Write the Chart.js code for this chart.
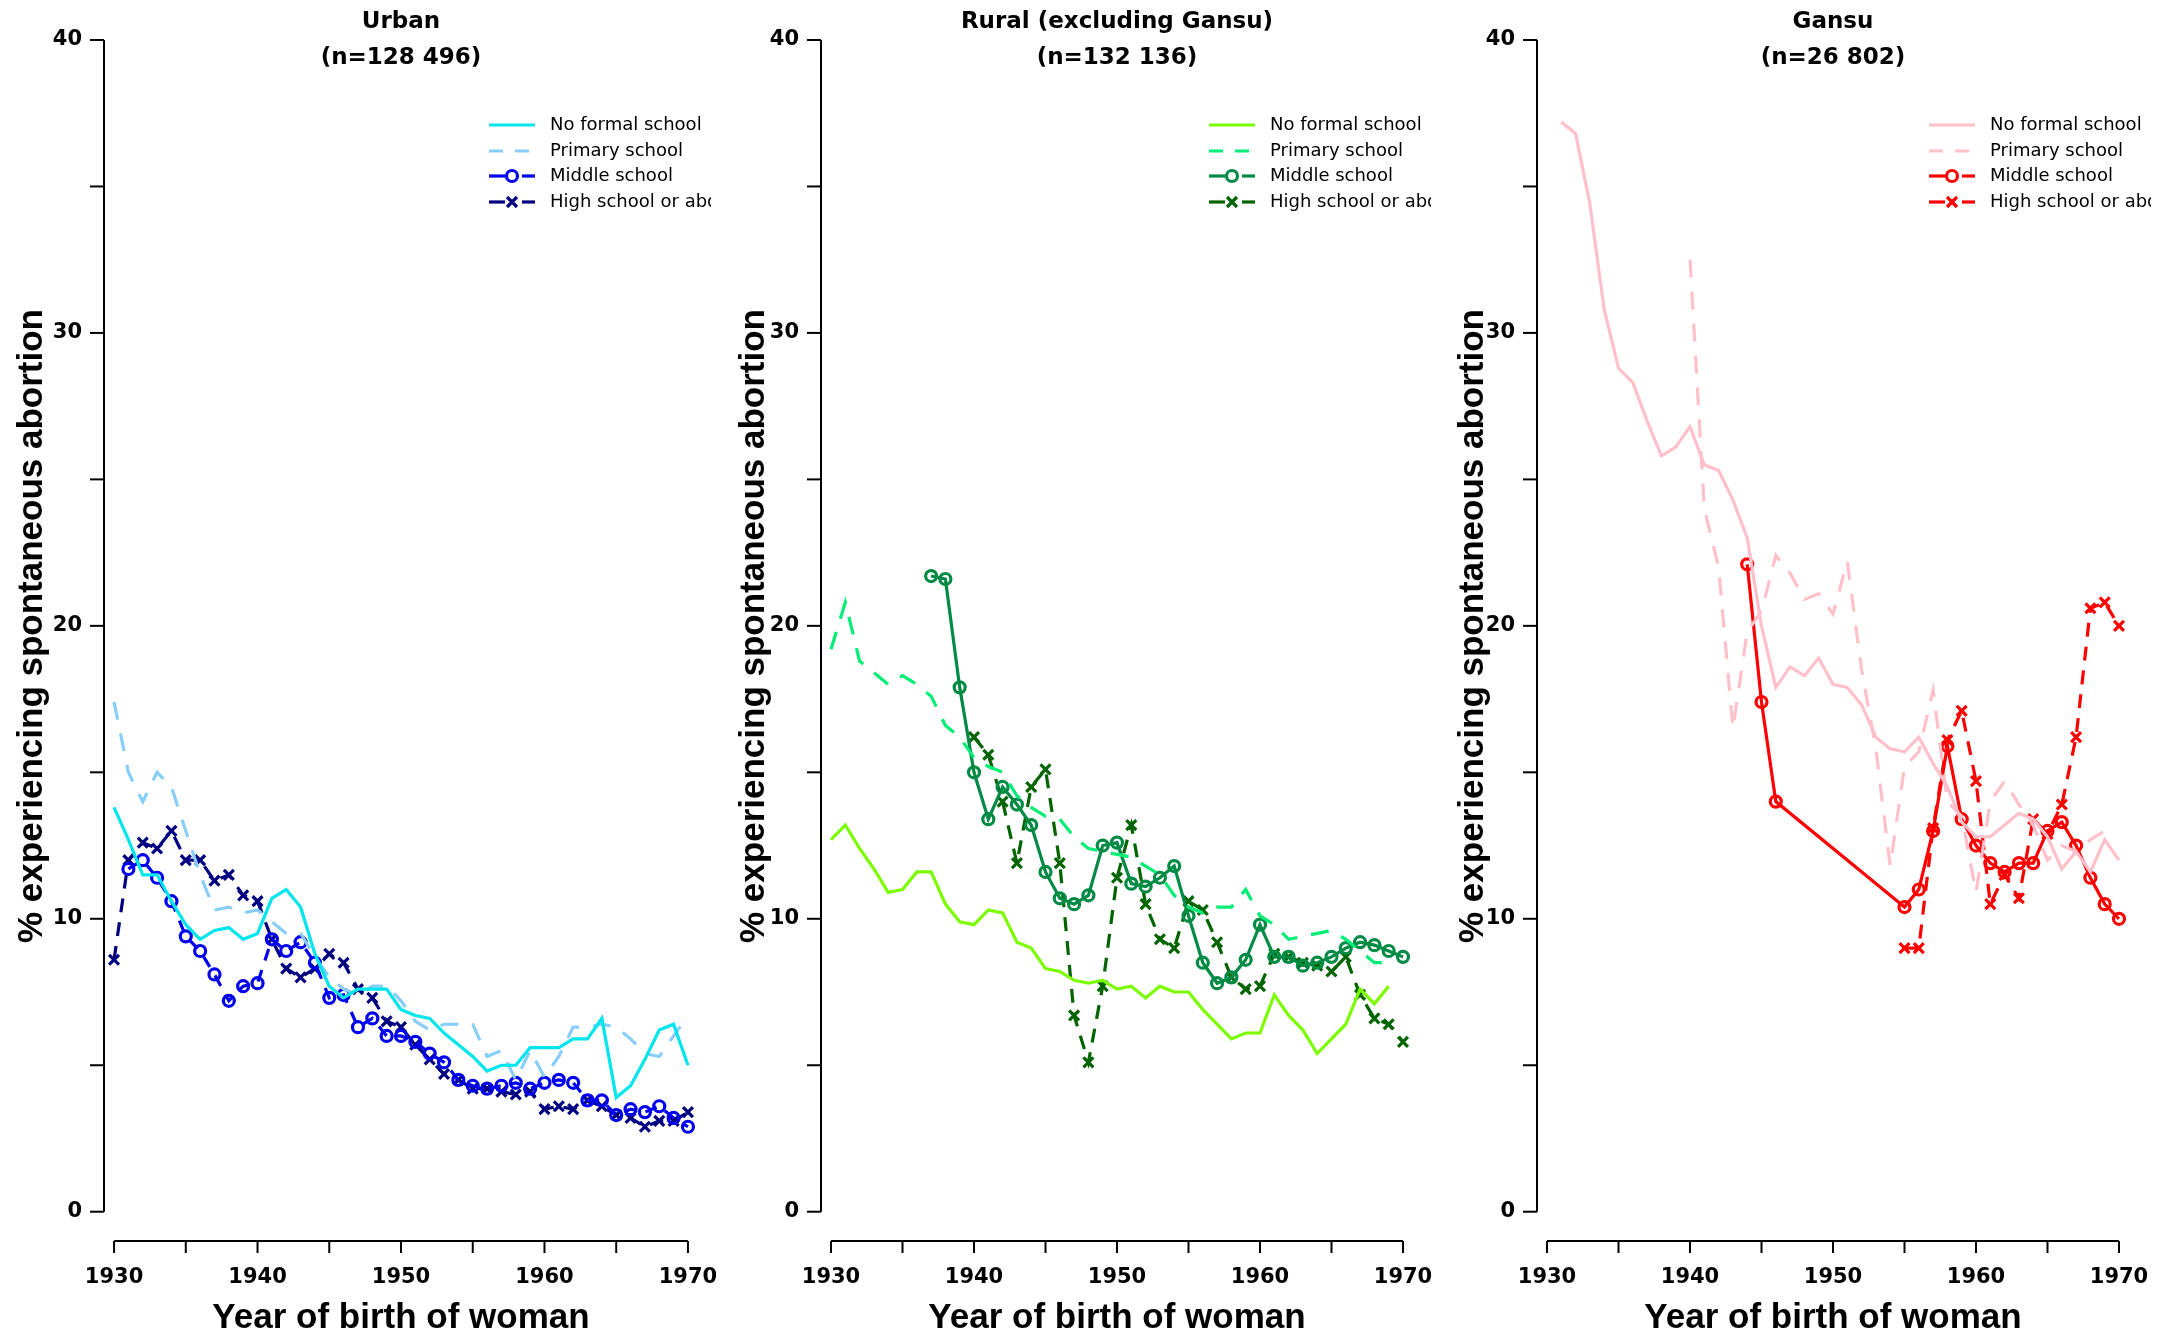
<!DOCTYPE html>
<html><head><meta charset="utf-8">
<script src="https://cdn.jsdelivr.net/npm/chart.js@4"></script>
<style>
html,body{margin:0;padding:0;background:#fff;}
#wrap{position:relative;width:2160px;height:1333px;}
.pc{position:absolute;top:0;width:720px;height:1333px;}
</style></head><body>
<div id="wrap">
<div class="pc" style="left:0"><canvas id="c1"></canvas></div>
<div class="pc" style="left:720px"><canvas id="c2"></canvas></div>
<div class="pc" style="left:1440px"><canvas id="c3"></canvas></div>
</div>
<script>
const years = []; for (let y = 1930; y <= 1970; y++) years.push(y);
const legendLabels = ["No formal school", "Primary school", "Middle school", "High school or above"];
const yTicks = [0, 5, 10, 15, 20, 25, 30, 35, 40];
const xTicks = [1930, 1935, 1940, 1945, 1950, 1955, 1960, 1965, 1970];
const N = null;

const urbanNone = [13.8,12.7,11.5,11.5,10.6,9.8,9.3,9.6,9.7,9.3,9.5,10.7,11.0,10.4,8.8,7.7,7.3,7.6,7.6,7.6,6.9,6.7,6.6,6.1,5.7,5.3,4.8,5.0,5.0,5.6,5.6,5.6,5.9,5.9,6.6,3.9,4.3,5.2,6.2,6.4,5.0];
const urbanPrimary = [17.4,15.0,14.0,15.0,14.5,13.0,11.5,10.3,10.4,10.2,10.3,9.9,9.5,9.5,8.7,8.0,7.6,7.4,7.7,7.7,7.2,6.5,6.2,6.4,6.4,6.4,5.3,5.5,4.5,5.5,4.6,5.3,6.3,6.3,6.4,6.3,5.9,5.4,5.3,6.0,6.7];
const urbanMiddle = [N,11.7,12.0,11.4,10.6,9.4,8.9,8.1,7.2,7.7,7.8,9.3,8.9,9.2,8.5,7.3,7.4,6.3,6.6,6.0,6.0,5.8,5.4,5.1,4.5,4.3,4.2,4.3,4.4,4.2,4.4,4.5,4.4,3.8,3.8,3.3,3.5,3.4,3.6,3.2,2.9];
const urbanHigh = [8.6,12.0,12.6,12.4,13.0,12.0,12.0,11.3,11.5,10.8,10.6,9.3,8.3,8.0,8.3,8.8,8.5,7.6,7.3,6.5,6.3,5.7,5.2,4.7,4.5,4.2,4.2,4.1,4.0,4.1,3.5,3.6,3.5,3.8,3.6,3.3,3.2,2.9,3.1,3.1,3.4];

const ruralNone = [12.7,13.2,12.4,11.7,10.9,11.0,11.6,11.6,10.5,9.9,9.8,10.3,10.2,9.2,9.0,8.3,8.2,7.9,7.8,7.9,7.6,7.7,7.3,7.7,7.5,7.5,6.9,6.4,5.9,6.1,6.1,7.4,6.7,6.2,5.4,5.9,6.4,7.6,7.1,7.7,N];
const ruralPrimary = [19.2,20.8,18.8,18.4,18.0,18.3,18.0,17.6,16.6,16.2,15.5,15.2,15.0,14.2,13.8,13.5,13.4,12.8,12.4,12.3,12.2,12.1,11.8,11.5,10.8,10.4,10.2,10.4,10.4,11.0,10.1,9.8,9.3,9.4,9.5,9.6,9.3,8.9,8.5,8.5,N];
const ruralMiddle = [N,N,N,N,N,N,N,21.7,21.6,17.9,15.0,13.4,14.5,13.9,13.2,11.6,10.7,10.5,10.8,12.5,12.6,11.2,11.1,11.4,11.8,10.1,8.5,7.8,8.0,8.6,9.8,8.7,8.7,8.4,8.5,8.7,9.0,9.2,9.1,8.9,8.7];
const ruralHigh = [N,N,N,N,N,N,N,N,N,N,16.2,15.6,14.0,11.9,14.5,15.1,11.9,6.7,5.1,7.7,11.4,13.2,10.5,9.3,9.0,10.6,10.3,9.2,8.0,7.6,7.7,8.8,8.7,8.5,8.4,8.2,8.7,7.4,6.6,6.4,5.8];

const gansuNone = [N,37.2,36.8,34.4,30.8,28.8,28.3,27.0,25.8,26.1,26.8,25.5,25.3,24.3,23.0,20.0,17.9,18.6,18.3,18.9,18.0,17.9,17.3,16.2,15.8,15.7,16.2,15.3,14.5,13.3,12.8,12.8,13.2,13.6,13.4,12.8,11.7,12.3,11.6,12.7,12.0];
const gansuPrimary = [N,N,N,N,N,N,N,N,N,N,32.5,24.0,22.0,16.5,19.8,20.5,22.4,21.8,20.9,21.1,20.4,22.2,18.5,15.8,11.8,15.2,15.7,17.8,14.0,13.5,10.9,14.0,14.7,13.9,13.2,12.0,12.5,12.3,12.7,13.0,N];
const gansuMiddle = [N,N,N,N,N,N,N,N,N,N,N,N,N,N,22.1,17.4,14.0,N,N,N,N,N,N,N,N,10.4,11.0,13.0,15.9,13.4,12.5,11.9,11.6,11.9,11.9,13.0,13.3,12.5,11.4,10.5,10.0];
const gansuHigh = [N,N,N,N,N,N,N,N,N,N,N,N,N,N,N,N,N,N,N,N,N,N,N,N,N,9.0,9.0,13.1,16.1,17.1,14.7,10.5,11.5,10.7,13.4,12.9,13.9,16.2,20.6,20.8,20.0];

function mkSets(vals, cols, middleDash) {
  const specs = [
    {dash: [], pt: false},
    {dash: [18, 14], pt: false},
    {dash: middleDash, pt: 'circle'},
    {dash: [14, 10], pt: 'crossRot'}
  ];
  return vals.map((v, i) => ({
    label: legendLabels[i], data: v.map((y, k) => ({x: years[k], y})), borderColor: cols[i], backgroundColor: 'rgba(0,0,0,0)',
    borderWidth: 3.2, borderDash: specs[i].dash, pointStyle: specs[i].pt || 'circle',
    pointRadius: specs[i].pt ? (specs[i].pt === 'circle' ? 5.5 : 7) : 0, pointBorderWidth: 3.2,
    pointBackgroundColor: 'rgba(0,0,0,0)', pointBorderColor: cols[i], tension: 0, spanGaps: true
  }));
}

const rAxes = {
  id: 'rAxes',
  afterDraw(chart) {
    const o = chart.options.plugins.rAxes, ctx = chart.ctx, xs = chart.scales.x, ys = chart.scales.y;
    ctx.save();
    ctx.strokeStyle = '#000'; ctx.fillStyle = '#000'; ctx.lineWidth = 2;
    const ax = chart.chartArea.left;
    ctx.beginPath(); ctx.moveTo(ax, ys.getPixelForValue(0)); ctx.lineTo(ax, ys.getPixelForValue(40)); ctx.stroke();
    ctx.font = 'bold 21px "DejaVu Sans", sans-serif'; ctx.textAlign = 'right'; ctx.textBaseline = 'middle';
    yTicks.forEach(t => {
      const p = ys.getPixelForValue(t);
      ctx.beginPath(); ctx.moveTo(ax, p); ctx.lineTo(ax - 14, p); ctx.stroke();
      if (t % 10 === 0) ctx.fillText(String(t), ax - 22, p);
    });
    const ay = chart.chartArea.bottom;
    ctx.beginPath(); ctx.moveTo(xs.getPixelForValue(1930), ay); ctx.lineTo(xs.getPixelForValue(1970), ay); ctx.stroke();
    ctx.textAlign = 'center';
    xTicks.forEach(t => {
      const p = xs.getPixelForValue(t);
      ctx.beginPath(); ctx.moveTo(p, ay); ctx.lineTo(p, ay + 12); ctx.stroke();
      if (t % 10 === 0) ctx.fillText(String(t), p, ay + 37);
    });
    const cx = (xs.getPixelForValue(1930) + xs.getPixelForValue(1970)) / 2;
    ctx.font = 'bold 23px "DejaVu Sans", sans-serif';
    ctx.fillText(o.t1, cx, 22); ctx.fillText(o.t2, cx, 58);
    ctx.font = 'bold 35px "Liberation Sans", Arial, sans-serif';
    ctx.fillText('Year of birth of woman', cx, 1318);
    ctx.save();
    ctx.translate(o.ytx, 626); ctx.rotate(-Math.PI / 2);
    ctx.font = 'bold 35px "Liberation Sans Narrow", "Liberation Sans", Arial, sans-serif';
    ctx.fillText('% experiencing spontaneous abortion', 0, 0);
    ctx.restore();
    ctx.save();
    ctx.beginPath(); ctx.rect(0, 0, 711, 1333); ctx.clip();
    const rows = [125, 151, 176, 202];
    chart.data.datasets.forEach((ds, i) => {
      const y = rows[i];
      ctx.strokeStyle = ds.borderColor; ctx.lineWidth = 3.2;
      if (i === 0) { ctx.beginPath(); ctx.moveTo(489, y); ctx.lineTo(535, y); ctx.stroke(); }
      else if (i === 1) { ctx.setLineDash([14, 12]); ctx.beginPath(); ctx.moveTo(489, y); ctx.lineTo(535, y); ctx.stroke(); ctx.setLineDash([]); }
      else {
        ctx.beginPath(); ctx.moveTo(489, y); ctx.lineTo(505, y); ctx.stroke();
        ctx.beginPath(); ctx.moveTo(522, y); ctx.lineTo(535, y); ctx.stroke();
        ctx.beginPath();
        if (i === 2) { ctx.arc(512, y, 5.5, 0, Math.PI * 2); }
        else { ctx.moveTo(507, y - 5); ctx.lineTo(517, y + 5); ctx.moveTo(517, y - 5); ctx.lineTo(507, y + 5); }
        ctx.stroke();
      }
      ctx.fillStyle = '#000'; ctx.textAlign = 'left'; ctx.textBaseline = 'middle';
      ctx.font = '18px "DejaVu Sans", sans-serif';
      ctx.fillText(ds.label, 550, y);
    });
    ctx.restore();
    ctx.restore();
  }
};

function make(id, sets, t1, t2, padL, padR, ytx) {
  new Chart(document.getElementById(id), {
    type: 'line',
    data: {labels: years, datasets: sets},
    plugins: [rAxes],
    options: {
      responsive: true, maintainAspectRatio: false, animation: false,
      layout: {padding: {left: padL, right: padR, top: 40, bottom: 92}},
      scales: {
        x: {type: 'linear', min: 1929.3, max: 1970.7, display: false},
        y: {min: -1, max: 40, display: false}
      },
      plugins: {legend: {display: false}, tooltip: {enabled: false}, rAxes: {t1, t2, ytx}}
    }
  });
}

make('c1', mkSets([urbanNone, urbanPrimary, urbanMiddle, urbanHigh], ['#00E5EE', '#87CEFA', '#0000EE', '#000080'], [12, 10]),
  'Urban', '(n=128 496)', 104, 22, 32);
make('c2', mkSets([ruralNone, ruralPrimary, ruralMiddle, ruralHigh], ['#7CFC00', '#00EE76', '#008B45', '#006400'], []),
  'Rural (excluding Gansu)', '(n=132 136)', 101, 27, 34);
make('c3', mkSets([gansuNone, gansuPrimary, gansuMiddle, gansuHigh], ['#FFC0CB', '#FFC0CB', '#FF0000', '#FF0000'], []),
  'Gansu', '(n=26 802)', 97, 31, 33);
</script>
</body></html>
